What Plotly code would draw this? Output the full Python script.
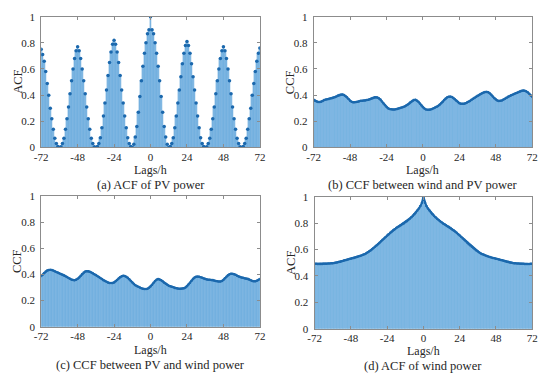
import plotly.graph_objects as go

W, H = 550, 387

lags = list(range(-72, 73))

# (a) ACF of PV power, lags -72..72
acf_pv = [
    0.75,
    0.71, 0.66, 0.58, 0.49, 0.40, 0.30, 0.22, 0.14, 0.07, 0.03, 0.008,
    0.0,
    0.006, 0.03, 0.07, 0.14, 0.22, 0.31, 0.41, 0.51, 0.60, 0.68, 0.74,
    0.77,
    0.74, 0.68, 0.60, 0.51, 0.41, 0.31, 0.22, 0.14, 0.07, 0.03, 0.006,
    0.0,
    0.007, 0.03, 0.075, 0.15, 0.24, 0.34, 0.44, 0.55, 0.65, 0.73, 0.79,
    0.82,
    0.79, 0.73, 0.65, 0.55, 0.44, 0.34, 0.24, 0.15, 0.075, 0.03, 0.007,
    0.0,
    0.025, 0.08, 0.16, 0.27, 0.39, 0.51, 0.62, 0.72, 0.80, 0.87, 0.90,
    1.0,
    0.90, 0.87, 0.80, 0.72, 0.62, 0.51, 0.39, 0.27, 0.16, 0.08, 0.025,
    0.0,
    0.007, 0.03, 0.075, 0.15, 0.24, 0.34, 0.44, 0.54, 0.64, 0.72, 0.78,
    0.81,
    0.78, 0.72, 0.64, 0.54, 0.44, 0.34, 0.24, 0.15, 0.075, 0.03, 0.007,
    0.0,
    0.006, 0.03, 0.07, 0.14, 0.22, 0.31, 0.41, 0.51, 0.60, 0.68, 0.74,
    0.77,
    0.74, 0.68, 0.60, 0.51, 0.41, 0.31, 0.22, 0.14, 0.07, 0.03, 0.006,
    0.0,
    0.008, 0.03, 0.07, 0.14, 0.22, 0.30, 0.40, 0.49, 0.58, 0.66, 0.72,
    0.76,
]

# (b) CCF between wind and PV power, lags -72..72
ccf_wind_pv = [
    0.365, 0.358, 0.352, 0.348, 0.347, 0.350, 0.356, 0.362, 0.366, 0.369,
    0.371, 0.374, 0.377, 0.380, 0.384, 0.390, 0.397, 0.402, 0.405, 0.405,
    0.402, 0.394, 0.383, 0.370, 0.358, 0.350, 0.346, 0.345, 0.347, 0.350,
    0.354, 0.357, 0.358, 0.359, 0.360, 0.362, 0.365, 0.369, 0.374, 0.379,
    0.383, 0.384, 0.382, 0.376, 0.366, 0.352, 0.337, 0.322, 0.310, 0.300,
    0.294, 0.292, 0.291, 0.291, 0.292, 0.294, 0.297, 0.301, 0.305, 0.309,
    0.314, 0.320, 0.328, 0.337, 0.347, 0.356, 0.362, 0.364, 0.360, 0.350,
    0.336, 0.321, 0.308, 0.298, 0.291, 0.288, 0.288, 0.290, 0.294, 0.299,
    0.305, 0.311, 0.318, 0.327, 0.338, 0.350, 0.363, 0.374, 0.383, 0.388,
    0.389, 0.386, 0.379, 0.369, 0.358, 0.347, 0.339, 0.335, 0.334, 0.335,
    0.338, 0.343, 0.349, 0.356, 0.364, 0.372, 0.380, 0.388, 0.395, 0.402,
    0.409, 0.415, 0.421, 0.424, 0.425, 0.422, 0.414, 0.403, 0.390, 0.377,
    0.366, 0.359, 0.356, 0.357, 0.360, 0.366, 0.373, 0.380, 0.387, 0.393,
    0.399, 0.404, 0.409, 0.414, 0.419, 0.424, 0.429, 0.433, 0.435, 0.434,
    0.430, 0.422, 0.410, 0.398, 0.388,
]

# (c) CCF between PV and wind power, lags -72..72
ccf_pv_wind = [
    0.388, 0.398, 0.410, 0.422, 0.430, 0.434, 0.435, 0.433, 0.429, 0.424,
    0.419, 0.414, 0.409, 0.404, 0.399, 0.393, 0.387, 0.380, 0.373, 0.366,
    0.360, 0.357, 0.356, 0.359, 0.366, 0.377, 0.390, 0.403, 0.414, 0.422,
    0.425, 0.424, 0.421, 0.415, 0.409, 0.402, 0.395, 0.388, 0.380, 0.372,
    0.364, 0.356, 0.349, 0.343, 0.338, 0.335, 0.334, 0.335, 0.339, 0.347,
    0.358, 0.369, 0.379, 0.386, 0.389, 0.388, 0.383, 0.374, 0.363, 0.350,
    0.338, 0.327, 0.318, 0.311, 0.305, 0.299, 0.294, 0.290, 0.288, 0.288,
    0.291, 0.298, 0.308, 0.321, 0.336, 0.350, 0.360, 0.364, 0.362, 0.356,
    0.347, 0.337, 0.328, 0.320, 0.314, 0.309, 0.305, 0.301, 0.297, 0.294,
    0.292, 0.291, 0.291, 0.292, 0.294, 0.300, 0.310, 0.322, 0.337, 0.352,
    0.366, 0.376, 0.382, 0.384, 0.383, 0.379, 0.374, 0.369, 0.365, 0.362,
    0.360, 0.359, 0.358, 0.357, 0.354, 0.350, 0.347, 0.345, 0.346, 0.350,
    0.358, 0.370, 0.383, 0.394, 0.402, 0.405, 0.405, 0.402, 0.397, 0.390,
    0.384, 0.380, 0.377, 0.374, 0.371, 0.369, 0.366, 0.362, 0.356, 0.350,
    0.347, 0.348, 0.352, 0.358, 0.365,
]

# (d) ACF of wind power, lags -72..72
acf_wind = [
    0.492, 0.492, 0.491, 0.491, 0.491, 0.491, 0.492, 0.492, 0.493, 0.494,
    0.495, 0.496, 0.497, 0.499, 0.501, 0.503, 0.505, 0.508, 0.511, 0.515,
    0.519, 0.522, 0.525, 0.528, 0.531, 0.534, 0.537, 0.540, 0.543, 0.547,
    0.551, 0.555, 0.560, 0.565, 0.571, 0.578, 0.586, 0.594, 0.603, 0.612,
    0.621, 0.631, 0.641, 0.652, 0.663, 0.674, 0.685, 0.696, 0.707, 0.717,
    0.727, 0.737, 0.746, 0.755, 0.763, 0.771, 0.778, 0.785, 0.792, 0.799,
    0.807, 0.815, 0.824, 0.834, 0.845, 0.857, 0.869, 0.882, 0.896, 0.912,
    0.930, 0.955, 1.0, 0.955, 0.930, 0.912, 0.896, 0.882, 0.869, 0.857,
    0.845, 0.834, 0.824, 0.815, 0.807, 0.799, 0.792, 0.785, 0.778, 0.771,
    0.763, 0.755, 0.746, 0.737, 0.727, 0.717, 0.707, 0.696, 0.685, 0.674,
    0.663, 0.652, 0.641, 0.631, 0.621, 0.612, 0.603, 0.594, 0.586, 0.578,
    0.571, 0.565, 0.560, 0.555, 0.551, 0.547, 0.543, 0.540, 0.537, 0.534,
    0.531, 0.528, 0.525, 0.522, 0.519, 0.515, 0.511, 0.508, 0.505, 0.503,
    0.501, 0.499, 0.497, 0.496, 0.495, 0.494, 0.493, 0.492, 0.492, 0.491,
    0.491, 0.491, 0.491, 0.492, 0.492,
]

for s in (acf_pv, ccf_wind_pv, ccf_pv_wind, acf_wind):
    assert len(s) == len(lags), len(s)

x_ticks = [-72, -48, -24, 0, 24, 48, 72]
x_tick_text = ["-72", "-48", "-24", "0", "24", "48", "72"]
y_ticks = [0, 0.2, 0.4, 0.6, 0.8, 1]
y_tick_text = ["0", "0.2", "0.4", "0.6", "0.8", "1"]

panels = [
    # series, y label, caption, (x0,x1,y0,y1) in px, line mode
    (acf_pv, "ACF", "(a) ACF of PV power", (35, 259, 11, 146), "markers"),
    (ccf_wind_pv, "CCF", "(b) CCF between wind and PV power", (314, 538, 11, 146), "lines"),
    (ccf_pv_wind, "CCF", "(c) CCF between PV and wind power", (35, 259, 196, 331), "lines"),
    (acf_wind, "ACF", "(d) ACF of wind power", (315, 538, 197, 333), "lines"),
]

FILL = "#84bae4"
STEM = "#66a9dc"
DARK = "#1b68ad"
FONT = "Liberation Serif"
TXT = "#262626"

fig = go.Figure()
annotations = []
layout_axes = {}
for i, (vals, ylab, cap, (x0, x1, y0, y1), mode) in enumerate(panels, start=1):
    xa = "x" if i == 1 else f"x{i}"
    ya = "y" if i == 1 else f"y{i}"
    fig.add_trace(go.Bar(
        x=lags, y=vals, width=1.0, xaxis=xa, yaxis=ya,
        marker=dict(color=FILL, line=dict(color=STEM, width=0.5)),
        showlegend=False, hoverinfo="skip",
    ))
    if mode == "markers":
        fig.add_trace(go.Scatter(
            x=lags, y=vals, mode="markers", xaxis=xa, yaxis=ya,
            marker=dict(color=DARK, size=3.5), showlegend=False,
        ))
    else:
        fig.add_trace(go.Scatter(
            x=lags, y=vals, mode="lines+markers", xaxis=xa, yaxis=ya,
            line=dict(color=DARK, width=2), marker=dict(color=DARK, size=2.5),
            showlegend=False,
        ))
    xd = [x0 / W, x1 / W]
    yd = [1 - y1 / H, 1 - y0 / H]
    common = dict(showline=True, linecolor="#8c8c8c", linewidth=1, mirror="ticks",
                  ticks="inside", ticklen=3, tickcolor="#8c8c8c", showgrid=False,
                  zeroline=False, tickfont=dict(family=FONT, size=11, color=TXT))
    layout_axes["xaxis" if i == 1 else f"xaxis{i}"] = dict(
        domain=xd, range=[-72, 72], tickvals=x_ticks, ticktext=x_tick_text, anchor=ya,
        ticklabelstandoff=-1, **common)
    layout_axes["yaxis" if i == 1 else f"yaxis{i}"] = dict(
        domain=yd, range=[0, 1], tickvals=y_ticks, ticktext=y_tick_text, anchor=xa,
        ticklabelstandoff=3, **common)
    cx = (x0 + x1) / 2 / W
    annotations.append(dict(text="Lags/h", x=cx, y=1 - (y1 + 23.5) / H, xref="paper", yref="paper",
                            showarrow=False, xanchor="center", yanchor="middle", borderpad=0,
                            font=dict(family=FONT, size=12, color=TXT)))
    annotations.append(dict(text=cap, x=cx, y=1 - (y1 + 39) / H, xref="paper", yref="paper",
                            showarrow=False, xanchor="center", yanchor="middle", borderpad=0,
                            font=dict(family=FONT, size=12.5, color=TXT)))
    annotations.append(dict(text=ylab, x=(x0 - 24) / W, y=1 - (y0 + y1) / 2 / H, xref="paper", yref="paper",
                            showarrow=False, xanchor="center", yanchor="middle", textangle=-90, borderpad=0,
                            font=dict(family=FONT, size=12.5, color=TXT)))

fig.update_layout(
    width=W, height=H, margin=dict(l=0, r=0, t=0, b=0),
    paper_bgcolor="white", plot_bgcolor="white", bargap=0,
    annotations=annotations, **layout_axes,
)
fig.write_html("out.html", config={"displayModeBar": False},
               post_script="document.body.style.margin='0';document.body.style.overflow='hidden';")
